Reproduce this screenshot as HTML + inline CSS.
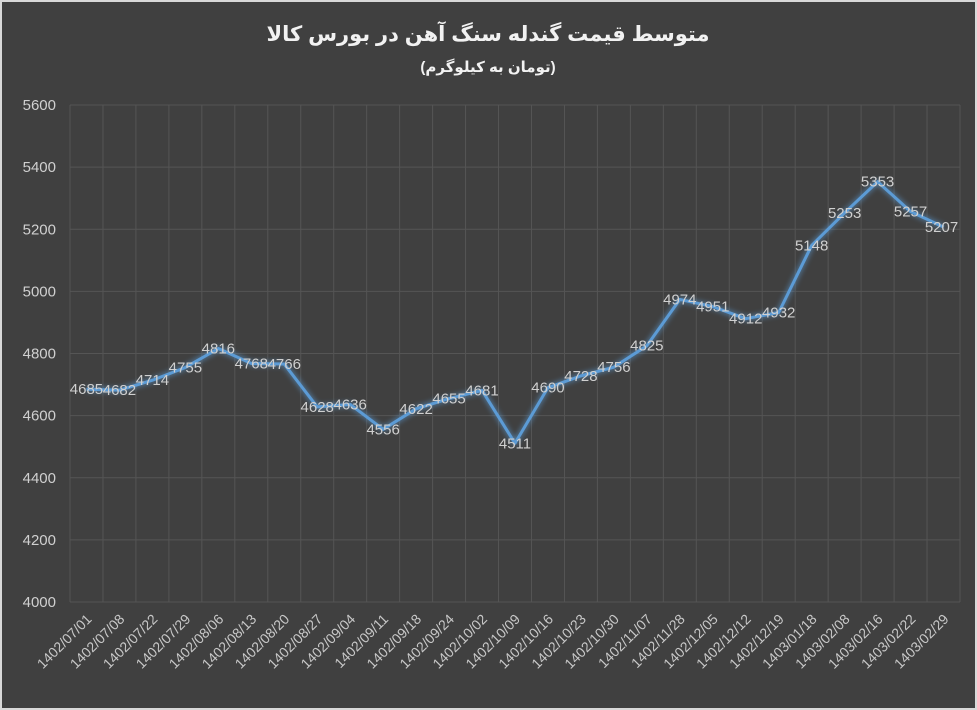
<!DOCTYPE html>
<html><head><meta charset="utf-8"><style>
html,body{margin:0;padding:0;background:#d9d9d9;}
svg{display:block;}
text{font-family:"Liberation Sans","DejaVu Sans",sans-serif;}
</style></head><body>
<svg width="977" height="710" viewBox="0 0 977 710" xmlns="http://www.w3.org/2000/svg">
<defs>
<filter id="glow" x="-10%" y="-10%" width="120%" height="120%">
<feGaussianBlur stdDeviation="3" result="b"/>
<feMerge><feMergeNode in="b"/><feMergeNode in="SourceGraphic"/></feMerge>
</filter>
</defs>
<rect x="0" y="0" width="977" height="710" fill="#d9d9d9"/>
<rect x="2" y="2" width="973" height="706" fill="#404040"/>
<text x="488" y="41" text-anchor="middle" font-size="21" font-weight="bold" fill="#f2f2f2" font-family="DejaVu Sans, sans-serif">متوسط قیمت گندله سنگ آهن در بورس کالا</text>
<text x="488" y="72" text-anchor="middle" font-size="15" font-weight="bold" fill="#f2f2f2" font-family="DejaVu Sans, sans-serif">(تومان به کیلوگرم)</text>
<g id="grid" stroke="#555555" stroke-width="1"></g>
<g id="ylab" font-size="15" fill="#d0d0d0" text-anchor="end"></g>
<g id="xlab" font-size="14" fill="#c8c8c8" text-anchor="end"></g>
<polyline id="line" fill="none" stroke="#5b9bd5" stroke-width="3" stroke-linejoin="round" filter="url(#glow)"/>
<g id="dlab" font-size="15" fill="#d0d0d0" text-anchor="middle"></g>
</svg>
<script>
var ns="http://www.w3.org/2000/svg";
var data=[4685,4682,4714,4755,4816,4768,4766,4628,4636,4556,4622,4655,4681,4511,4690,4728,4756,4825,4974,4951,4912,4932,5148,5253,5353,5257,5207];
var dates=["1402/07/01","1402/07/08","1402/07/22","1402/07/29","1402/08/06","1402/08/13","1402/08/20","1402/08/27","1402/09/04","1402/09/11","1402/09/18","1402/09/24","1402/10/02","1402/10/09","1402/10/16","1402/10/23","1402/10/30","1402/11/07","1402/11/28","1402/12/05","1402/12/12","1402/12/19","1403/01/18","1403/02/08","1403/02/16","1403/02/22","1403/02/29"];
var L=70,R=960,T=105,B=602,n=27,step=(R-L)/n;
function y(v){return B-(v-4000)*(B-T)/1600;}
function el(t,a,p,txt){var e=document.createElementNS(ns,t);for(var k in a)e.setAttribute(k,a[k]);if(txt!==undefined)e.textContent=txt;document.getElementById(p).appendChild(e);return e;}
for(var v=4000;v<=5600;v+=200){el("line",{x1:L,x2:R,y1:y(v),y2:y(v)},"grid");el("text",{x:56,y:y(v)+5},"ylab",v);}
for(var i=0;i<=n;i++){var x=L+i*step;el("line",{x1:x,x2:x,y1:T,y2:B},"grid");}
var pts=[];
for(var i=0;i<n;i++){var x=L+step*(i+0.5);pts.push(x+","+y(data[i]));
el("text",{x:x+6,y:620,transform:"rotate(-45 "+(x+6)+" 620)"},"xlab",dates[i]);
el("text",{x:x+(i==n-1?-2:0),y:y(data[i])+5,"text-anchor":"middle"},"dlab",data[i]);}
document.getElementById("line").setAttribute("points",pts.join(" "));
</script>
</body></html>
